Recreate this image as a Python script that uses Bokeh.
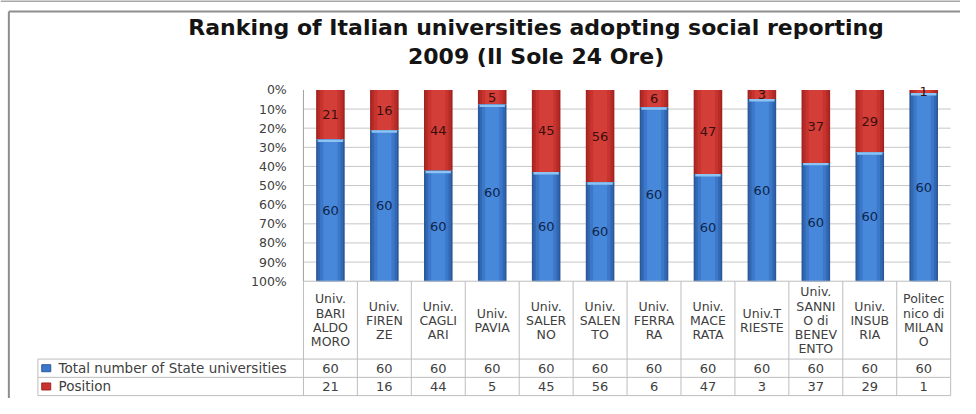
from bokeh.plotting import figure
from bokeh.models import Range1d
from bokeh.core.properties import value
from bokeh.embed import file_html
from bokeh.resources import INLINE

# ---------------- data ----------------
categories = ["Univ.\nBARI\nALDO\nMORO", "Univ.\nFIREN\nZE", "Univ.\nCAGLI\nARI", "Univ.\nPAVIA",
              "Univ.\nSALER\nNO", "Univ.\nSALEN\nTO", "Univ.\nFERRA\nRA", "Univ.\nMACE\nRATA",
              "Univ.T\nRIESTE", "Univ.\nSANNI\nO di\nBENEV\nENTO", "Univ.\nINSUB\nRIA",
              "Politec\nnico di\nMILAN\nO"]
total = [60, 60, 60, 60, 60, 60, 60, 60, 60, 60, 60, 60]
position = [21, 16, 44, 5, 45, 56, 6, 47, 3, 37, 29, 1]
series_names = ["Total number of State universities", "Position"]
y_ticks = [0, 10, 20, 30, 40, 50, 60, 70, 80, 90, 100]
y_tick_labels = ["0%", "10%", "20%", "30%", "40%", "50%", "60%", "70%", "80%", "90%", "100%"]
title_lines = ["Ranking of Italian universities adopting social reporting", "2009 (Il Sole 24 Ore)"]

# ---------------- layout ----------------
W, H = 960, 398
PL, PR, PT, PB = 308, 966, 93, 292     # plot area in design pixels (976 x 414 grid)
TL = 38                                 # table left edge
R1B, R2B, R3B = 373, 392, 411           # table row bottoms
n = len(categories)


def X(px):
    return (px - PL) / ((PR - PL) / n)


def Y(py):
    return (py - PT) / ((PB - PT) / 100.0)


p = figure(width=W, height=H, x_range=Range1d(X(0), X(976)), y_range=Range1d(Y(414), Y(0)),
           output_backend="svg", toolbar_location=None, min_border=0,
           x_axis_location=None, y_axis_location=None)
p.grid.visible = False
p.outline_line_color = None
p.background_fill_color = "white"
p.border_fill_color = "white"

FONT = value("DejaVu Sans")
TXT = "#404040"

# page border lines
p.segment(x0=[X(0)], y0=[Y(0.5)], x1=[X(976)], y1=[Y(0.5)], line_color="#A8A8A8", line_width=2)
p.segment(x0=[X(8.5), X(8.5)], y0=[Y(11.5), Y(11.5)], x1=[X(976), X(8.5)], y1=[Y(11.5), Y(414)],
          line_color="#8E8E8E", line_width=2)

# title
p.text(x=[X(544.5), X(544.5)], y=[Y(28), Y(58)], text=title_lines, text_align="center",
       text_baseline="middle", text_font=FONT, text_font_style="bold",
       text_font_size="22px", text_color="#141414")

# gridlines and axis
grid_y = y_ticks[1:-1]
p.segment(x0=[0] * len(grid_y), x1=[n] * len(grid_y), y0=grid_y, y1=grid_y,
          line_color="#C6C6C6", line_width=1)
p.segment(x0=[0], y0=[0], x1=[0], y1=[100], line_color="#A0A0A0", line_width=1)
p.text(x=[X(291)] * len(y_ticks), y=y_ticks, text=y_tick_labels, text_align="right",
       text_baseline="middle", text_font=FONT, text_font_size="12.5px", text_color=TXT)

# bars
xs = [i + 0.5 for i in range(n)]
red_share = [pv / (pv + tv) * 100.0 for pv, tv in zip(position, total)]
zeros = [0] * n
hundreds = [100] * n
blue_layers = [(0.53, "#2A5898"), (0.47, "#3268B2"), (0.38, "#3B78CA"), (0.26, "#4888DA")]
red_layers = [(0.53, "#A22320"), (0.47, "#B72B27"), (0.38, "#C7342F"), (0.26, "#D33E38")]
for w, c in red_layers:
    p.vbar(x=xs, width=w, top=zeros, bottom=red_share, fill_color=c, line_color=None)
for w, c in blue_layers:
    p.vbar(x=xs, width=w, top=red_share, bottom=hundreds, fill_color=c, line_color=None)
p.vbar(x=xs, width=0.47, top=red_share, bottom=[r + 1.3 for r in red_share],
       fill_color="#8CC3F2", line_color=None)

# data labels
p.text(x=xs, y=[r / 2 for r in red_share], text=[str(v) for v in position], text_align="center",
       text_baseline="middle", text_font=FONT, text_font_size="13px", text_color="#3A0E0C")
p.text(x=xs, y=[(r + 100) / 2 for r in red_share], text=[str(v) for v in total],
       text_align="center", text_baseline="middle", text_font=FONT,
       text_font_size="13px", text_color="#0E2449")

# data table
TB = "#BDBDBD"
hy = [100, Y(R1B), Y(R2B), Y(R3B)]
hx0 = [0, X(TL), X(TL), X(TL)]
p.segment(x0=hx0, x1=[n] * 4, y0=hy, y1=hy, line_color=TB, line_width=1)
vx = list(range(n + 1))
p.segment(x0=vx, x1=vx, y0=[100] * len(vx), y1=[Y(R3B)] * len(vx), line_color=TB, line_width=1)
p.segment(x0=[X(TL)], x1=[X(TL)], y0=[Y(R1B)], y1=[Y(R3B)], line_color=TB, line_width=1)

p.text(x=xs, y=[Y((PB + R1B) / 2)] * n, text=categories, text_align="center",
       text_baseline="middle", text_font=FONT, text_font_size="12.5px", text_color=TXT,
       text_line_height=0.94)
row_y = [Y((R1B + R2B) / 2), Y((R2B + R3B) / 2)]
p.text(x=xs, y=[row_y[0]] * n, text=[str(v) for v in total], text_align="center",
       text_baseline="middle", text_font=FONT, text_font_size="13px", text_color=TXT)
p.text(x=xs, y=[row_y[1]] * n, text=[str(v) for v in position], text_align="center",
       text_baseline="middle", text_font=FONT, text_font_size="13px", text_color=TXT)
p.text(x=[X(59)] * 2, y=row_y, text=series_names, text_align="left",
       text_baseline="middle", text_font=FONT, text_font_size="13.5px", text_color=TXT)
p.rect(x=[X(46.5)] * 2, y=row_y, width=9, height=7, width_units="screen",
       height_units="screen", fill_color=["#3B78CA", "#C7342F"], line_color=["#2A5898", "#A22320"])

open("out.html", "w").write(file_html(p, INLINE))
